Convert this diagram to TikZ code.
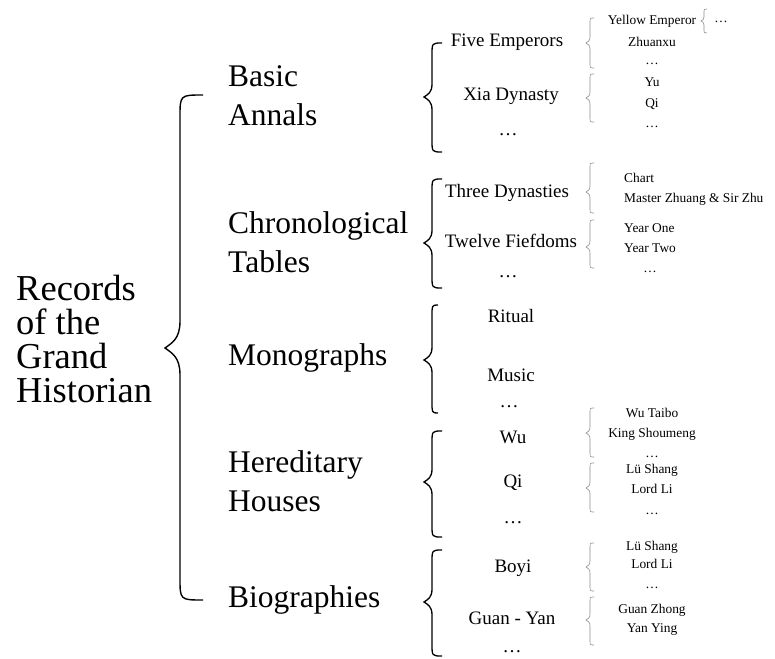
\documentclass[tikz,border=0pt]{standalone}
\usepackage{fontspec}
\setmainfont{Liberation Serif}
\usepackage{tikz}
\usetikzlibrary{calc}
\definecolor{thinbrace}{HTML}{8C8C8C}
% #2 hook end x, #3 line x, #4 tip x, #5 top y, #6 tip y, #7 bottom y, #8 hook size, #9 tip size
\newcommand{\wbrace}[9][]{%
  \draw[#1] (#2,#5) .. controls (#3,#5) .. (#3,#5+#8) -- (#3,#6-#9)
    .. controls (#3,#6-0.35*#9) and (#4+0.5*#3-0.5*#4,#6-0.2*#9) .. (#4,#6)
    .. controls (#4+0.5*#3-0.5*#4,#6+0.2*#9) and (#3,#6+0.35*#9) .. (#3,#6+#9)
    -- (#3,#7-#8) .. controls (#3,#7) .. (#2,#7);}

\begin{document}
\begin{tikzpicture}[
  x=1pt, y=-1pt,
  title/.style={font=\fontsize{36.5}{34}\selectfont,align=left,inner sep=0pt,anchor=base west},
  part/.style={font=\fontsize{31.5}{38.5}\selectfont,align=left,inner sep=0pt,anchor=base west},
  chapter/.style={font=\fontsize{19}{21}\selectfont,inner sep=0pt,anchor=base},
  entry/.style={font=\fontsize{13.4}{15}\selectfont,inner sep=0pt,anchor=base},
  mainbrace/.style={line width=1.4pt},
  midbrace/.style={line width=1.3pt},
  subbrace/.style={line width=0.6pt,draw=thinbrace}
]
\useasboundingbox (0,0) rectangle (775,658);
\node[title] (records) at (16,402) {Records\\of the\\Grand\\Historian};
\node[part] (annals) at (228,125) {Basic\\Annals};
\node[part] (tables) at (228,272) {Chronological\\Tables};
\node[part] (monographs) at (228,365) {Monographs};
\node[part] (houses) at (228,511) {Hereditary\\Houses};
\node[part] (biographies) at (228,607) {Biographies};
\node[chapter] (fiveemp) at (507,47) {Five Emperors};
\node[chapter] (xia) at (511,100) {Xia Dynasty};
\node[chapter] (annalsmore) at (508,135) {…};
\node[chapter] (threedyn) at (507,197) {Three Dynasties};
\node[chapter] (twelvefief) at (511,247) {Twelve Fiefdoms};
\node[chapter] (tablesmore) at (508,277) {…};
\node[chapter] (ritual) at (511,322) {Ritual};
\node[chapter] (music) at (511,381) {Music};
\node[chapter] (monomore) at (509,407) {…};
\node[chapter] (wu) at (513,443) {Wu};
\node[chapter] (qi) at (513,487) {Qi};
\node[chapter] (housesmore) at (513,523) {…};
\node[chapter] (boyi) at (513,572) {Boyi};
\node[chapter] (guanyan) at (512,624) {Guan - Yan};
\node[chapter] (biomore) at (512,652) {…};
\node[entry] (yellowemp) at (652,25) {Yellow Emperor};
\node[entry] (yellowmore) at (721,23) {…};
\node[entry] (zhuanxu) at (652,47) {Zhuanxu};
\node[entry] (fiveempmore) at (652,65) {…};
\node[entry] (yu) at (652,87) {Yu};
\node[entry] (qiking) at (652,107) {Qi};
\node[entry] (xiamore) at (652,127) {…};
\node[entry,anchor=base west] (chart) at (624,182) {Chart};
\node[entry,anchor=base west] (zhuangzhu) at (624,202) {Master Zhuang \& Sir Zhu};
\node[entry,anchor=base west] (yearone) at (624,232) {Year One};
\node[entry,anchor=base west] (yeartwo) at (624,252) {Year Two};
\node[entry] (twelvemore) at (650,272) {…};
\node[entry] (wutaibo) at (652,417) {Wu Taibo};
\node[entry] (shoumeng) at (652,437) {King Shoumeng};
\node[entry] (wumore) at (652,457) {…};
\node[entry] (lushang) at (652,473) {Lü Shang};
\node[entry] (lordli) at (652,493) {Lord Li};
\node[entry] (qimore) at (652,514) {…};
\node[entry] (boyilu) at (652,550) {Lü Shang};
\node[entry] (boyili) at (652,568) {Lord Li};
\node[entry] (boyimore) at (652,588) {…};
\node[entry] (guanzhong) at (652,613) {Guan Zhong};
\node[entry] (yanying) at (652,632) {Yan Ying};
\wbrace[mainbrace]{203}{180}{165}{95}{348}{600}{22}{27}
\wbrace[midbrace]{442}{432}{424}{43}{97}{152}{12}{13}
\wbrace[midbrace]{442}{432}{424}{179}{243}{288}{12}{13}
\wbrace[midbrace]{438}{432}{424}{305}{360}{413}{12}{13}
\wbrace[midbrace]{442}{432}{424}{431}{482}{537}{12}{13}
\wbrace[midbrace]{442}{432}{424}{550}{602}{656}{12}{13}
\wbrace[subbrace]{594}{590}{586}{18}{43}{68}{5}{6}
\wbrace[subbrace]{594}{590}{586}{74}{98}{122}{5}{6}
\wbrace[subbrace]{594}{590}{586}{163}{192}{213}{5}{6}
\wbrace[subbrace]{594}{590}{586}{220}{247}{268}{5}{6}
\wbrace[subbrace]{594}{590}{586}{408}{433}{457}{5}{6}
\wbrace[subbrace]{594}{590}{586}{463}{488}{512}{5}{6}
\wbrace[subbrace]{594}{590}{586}{543}{567}{591}{5}{6}
\wbrace[subbrace]{594}{590}{586}{597}{620}{645}{5}{6}
\wbrace[subbrace]{707}{704}{701}{9}{21}{33}{4}{4}
\end{tikzpicture}
\end{document}
